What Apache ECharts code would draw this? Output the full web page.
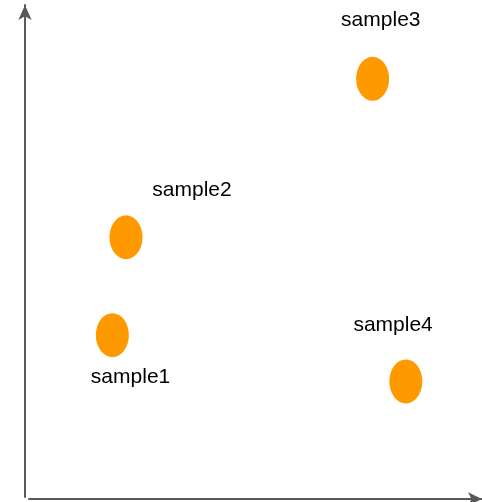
<!DOCTYPE html>
<html><head><meta charset="utf-8">
<script src="https://cdn.jsdelivr.net/npm/echarts@6/dist/echarts.min.js"></script>
<style>html,body{margin:0;padding:0;background:#fff}#c{width:482px;height:502px}</style>
</head><body><div id="c"></div>
<script>
const names = ['sample1','sample2','sample3','sample4'];
const pointX = [19.2, 22.2, 76.4, 83.7];
const pointY = [32.9, 52.8, 85.0, 23.5];
const labelX = [23.2, 36.7, 78.2, 80.9];
const labelY = [24.4, 62.4, 97.0, 35.0];

const chart = echarts.init(document.getElementById('c'));
const axisColor = '#595959';
chart.setOption({
  animation: false,
  grid: [
    {left: 25, right: 2, top: 5, bottom: 5},
    {left: 29, right: 0, top: 5, bottom: 3}
  ],
  xAxis: [
    {gridIndex: 0, type: 'value', min: 0, max: 100, show: false},
    {gridIndex: 1, type: 'value', min: 0, max: 100,
     axisLine: {show: true, lineStyle: {color: axisColor, width: 2}, symbol: ['none','arrow'], symbolSize: [10, 14]},
     axisTick: {show: false}, axisLabel: {show: false}, splitLine: {show: false}}
  ],
  yAxis: [
    {gridIndex: 0, type: 'value', min: 0, max: 100,
     axisLine: {show: true, lineStyle: {color: axisColor, width: 2}, symbol: ['none','arrow'], symbolSize: [10, 15]},
     axisTick: {show: false}, axisLabel: {show: false}, splitLine: {show: false}},
    {gridIndex: 1, type: 'value', min: 0, max: 100, show: false}
  ],
  series: [
    {
      type: 'scatter', xAxisIndex: 0, yAxisIndex: 0,
      symbol: 'circle', symbolSize: [33, 44],
      itemStyle: {color: '#ff9900', opacity: 1},
      data: names.map((n, i) => ({name: n, value: [pointX[i], pointY[i]]}))
    },
    {
      type: 'scatter', xAxisIndex: 0, yAxisIndex: 0,
      symbolSize: 0, silent: true,
      itemStyle: {opacity: 1},
      label: {show: true, position: 'inside', formatter: p => p.name,
              color: '#000', fontSize: 21, fontFamily: 'Liberation Sans, Arial, sans-serif'},
      data: names.map((n, i) => ({name: n, value: [labelX[i], labelY[i]]}))
    }
  ]
});
</script></body></html>
